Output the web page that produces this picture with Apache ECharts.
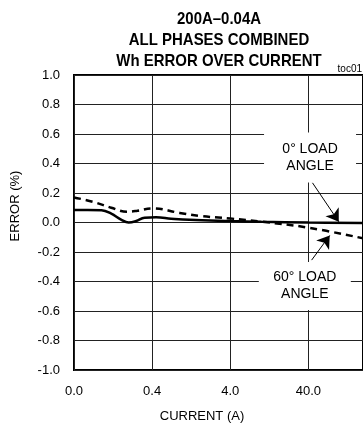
<!DOCTYPE html>
<html>
<head>
<meta charset="utf-8">
<script src="https://cdn.jsdelivr.net/npm/echarts@6/dist/echarts.min.js"></script>
<style>
  html, body { margin: 0; padding: 0; background: #fff; }
  #chart { width: 363px; height: 425px; }
</style>
</head>
<body>
<div id="chart"></div>
<script>
// current (A) on a log axis, error in %
const xTicks = [0.04, 0.4, 4, 40];
const xTickLabels = ['0.0', '0.4', '4.0', '40.0'];

// 0° load angle (solid)
const current0 = [0.04, 0.06, 0.09, 0.12, 0.16, 0.2, 0.25, 0.32, 0.45, 0.7, 1.2, 4, 10, 40, 200];
const error0 = [0.085, 0.085, 0.083, 0.06, 0.02, 0.0, 0.01, 0.033, 0.035, 0.026, 0.018, 0.01, 0.005, 0.0, -0.003];

// 60° load angle (dashed)
const current60 = [0.04, 0.07, 0.12, 0.19, 0.26, 0.4, 0.9, 1.6, 4, 10, 40, 200];
const error60 = [0.17, 0.14, 0.1, 0.073, 0.08, 0.096, 0.065, 0.045, 0.027, 0.006, -0.035, -0.107];

// annotation anchors (data space)
const label0Pos = [42, 0.44];
const arrow0 = [[45, 0.27], [98, 0.005]];
const label60Pos = [36, -0.43];
const arrow60 = [[44, -0.255], [75, -0.088]];

const FONT = "'Liberation Sans', Arial, sans-serif";
const GRID_COLOR = '#222';

const chart = echarts.init(document.getElementById('chart'));

const zip = (xs, ys) => xs.map((x, i) => [x, ys[i]]);

// label box + arrow for one series
function annotation(text, pos, size, arrow) {
  return {
    markPoint: {
      symbol: 'rect',
      symbolSize: size,
      itemStyle: { color: '#fff' },
      label: {
        show: true, formatter: text, color: '#000',
        fontSize: 14, lineHeight: 17, fontFamily: FONT
      },
      data: [{ coord: pos }]
    },
    markLine: {
      silent: true,
      symbol: ['none', 'arrow'],
      symbolSize: 12,
      label: { show: false },
      lineStyle: { color: '#000', width: 1, type: 'solid' },
      data: [[{ coord: arrow[0] }, { coord: arrow[1] }]]
    }
  };
}

const option = {
  animation: false,
  textStyle: { fontFamily: FONT },
  grid: {
    left: 74, top: 75, width: 290, bottom: 55,
    show: true, borderColor: '#000', borderWidth: 2,
    containLabel: false
  },
  xAxis: {
    type: 'log',
    min: 0.04,
    max: 200,
    axisLine: { show: false },
    axisTick: { show: false, customValues: xTicks },
    axisLabel: {
      customValues: xTicks,
      formatter: v => xTickLabels[xTicks.findIndex(t => Math.abs(t - v) < t * 1e-6)] || '',
      color: '#000', fontSize: 13, fontFamily: FONT, margin: 15
    },
    splitLine: { show: true, lineStyle: { color: GRID_COLOR, width: 1 } }
  },
  yAxis: {
    type: 'value',
    min: -1,
    max: 1,
    interval: 0.2,
    axisLine: { show: false },
    axisTick: { show: false },
    axisLabel: {
      formatter: v => v.toFixed(1),
      color: '#000', fontSize: 13, fontFamily: FONT, margin: 14
    },
    splitLine: { show: true, lineStyle: { color: GRID_COLOR, width: 1 } }
  },
  graphic: [
    {
      type: 'text', x: 219, y: 9, scaleX: 0.88,
      style: {
        text: '200A–0.04A\nALL PHASES COMBINED\nWh ERROR OVER CURRENT',
        x: 0, y: 0, fill: '#000', font: 'bold 17px ' + FONT,
        lineHeight: 21, align: 'center'
      }
    },
    {
      type: 'text', x: 362, y: 64,
      style: { text: 'toc01', x: 0, y: 0, align: 'right', fill: '#000', font: '10px ' + FONT }
    },
    {
      type: 'text', rotation: Math.PI / 2, x: 15, y: 206,
      style: { text: 'ERROR (%)', x: 0, y: 0, align: 'center', verticalAlign: 'middle', fill: '#000', font: '13px ' + FONT }
    },
    {
      type: 'text', x: 202, y: 410,
      style: { text: 'CURRENT (A)', x: 0, y: 0, align: 'center', fill: '#000', font: '13px ' + FONT }
    }
  ],
  series: [
    Object.assign({
      name: '0° LOAD ANGLE',
      type: 'line',
      smooth: 0.4,
      symbol: 'none',
      data: zip(current0, error0),
      lineStyle: { color: '#000', width: 2.5 },
      z: 4
    }, annotation('0° LOAD\nANGLE', label0Pos, [92, 50], arrow0)),
    Object.assign({
      name: '60° LOAD ANGLE',
      type: 'line',
      smooth: 0.4,
      symbol: 'none',
      data: zip(current60, error60),
      lineStyle: { color: '#000', width: 2.5, type: [7, 5] },
      z: 4
    }, annotation('60° LOAD\nANGLE', label60Pos, [92, 48], arrow60))
  ]
};

chart.setOption(option);
</script>
</body>
</html>
